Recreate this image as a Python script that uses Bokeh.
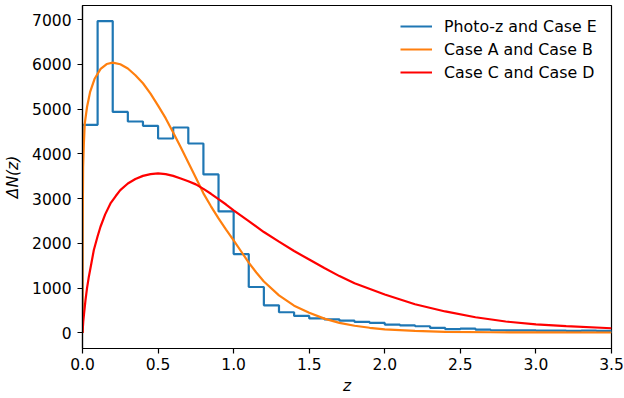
from bokeh.plotting import figure
from bokeh.models import Range1d, FixedTicker, Legend, LegendItem
from bokeh.embed import file_html
from bokeh.resources import INLINE

# Photo-z histogram (bin width 0.1 over 0 <= z <= 3.5)
bin_edges = [0.0, 0.1, 0.2, 0.3, 0.4, 0.5, 0.6, 0.7, 0.8, 0.9, 1.0, 1.1, 1.2,
             1.3, 1.4, 1.5, 1.6, 1.7, 1.8, 1.9, 2.0, 2.1, 2.2, 2.3, 2.4, 2.5,
             2.6, 2.7, 2.8, 2.9, 3.0, 3.1, 3.2, 3.3, 3.4, 3.5]
photo_counts = [4650, 6970, 4940, 4725, 4628, 4346, 4591, 4234, 3542, 2716,
                1763, 1027, 618, 462, 379, 325, 305, 275, 245, 223,
                186, 171, 149, 112, 85, 97, 74, 60, 55, 55,
                50, 50, 45, 50, 45]

# Case A / Case B distribution
z_ab = [0.0, 0.001, 0.004, 0.009, 0.015, 0.03, 0.05, 0.08, 0.12, 0.16, 0.2,
        0.25, 0.3, 0.35, 0.4, 0.45, 0.5, 0.55, 0.6, 0.65, 0.7, 0.75, 0.8,
        0.85, 0.9, 0.95, 1.0, 1.05, 1.1, 1.15, 1.2, 1.3, 1.4, 1.5, 1.6, 1.7,
        1.8, 1.9, 2.0, 2.2, 2.4, 2.7, 3.0, 3.5]
n_ab = [0, 2200, 3700, 4230, 4680, 5050, 5380, 5680, 5900, 6010, 6040,
        6005, 5910, 5760, 5580, 5350, 5080, 4800, 4480, 4150, 3810, 3470, 3120,
        2830, 2560, 2310, 2070, 1820, 1570, 1350, 1150, 840, 610, 450, 320, 225,
        160, 115, 80, 45, 25, 15, 12, 10]

# Case C / Case D distribution
z_cd = [0.0, 0.005, 0.01, 0.02, 0.03, 0.042, 0.06, 0.075, 0.1, 0.119, 0.15,
        0.185, 0.22, 0.25, 0.3, 0.35, 0.4, 0.45, 0.5, 0.55, 0.6, 0.65, 0.7,
        0.75, 0.8, 0.85, 0.9, 0.95, 1.0, 1.1, 1.2, 1.3, 1.4, 1.5, 1.6, 1.7,
        1.8, 2.0, 2.2, 2.4, 2.6, 2.8, 3.0, 3.2, 3.5]
n_cd = [0, 250, 420, 737, 1000, 1257, 1580, 1853, 2160, 2373, 2650,
        2895, 3060, 3192, 3340, 3440, 3510, 3550, 3565, 3550, 3510, 3453, 3390,
        3320, 3220, 3110, 2990, 2870, 2740, 2500, 2255, 2040, 1830, 1640, 1450, 1270,
        1110, 860, 640, 480, 350, 255, 190, 150, 105]

labels = ["Photo-z and Case E", "Case A and Case B", "Case C and Case D"]
x_ticks = [0.0, 0.5, 1.0, 1.5, 2.0, 2.5, 3.0, 3.5]
y_ticks = [0, 1000, 2000, 3000, 4000, 5000, 6000, 7000]

FONT = "DejaVu Sans"
FS = "15.5px"
LEGEND_FS = "15.8px"

# step outline of the histogram, closed to the baseline at both ends
step_x = [bin_edges[0]]
step_y = [0]
for i, c in enumerate(photo_counts):
    step_x += [bin_edges[i], bin_edges[i + 1]]
    step_y += [c, c]
step_x.append(bin_edges[-1])
step_y.append(0)

p = figure(width=624, height=398, output_backend="svg", toolbar_location=None,
           x_range=Range1d(0, 3.5), y_range=Range1d(-348, 7318),
           min_border_left=82, min_border_right=13, min_border_top=5,
           min_border_bottom=50)
p.background_fill_color = "white"
p.border_fill_color = "white"
p.grid.visible = False
p.outline_line_color = "black"
p.outline_line_width = 1.2

r_hist = p.line(step_x, step_y, line_color="#1f77b4", line_width=2.2)
r_ab = p.line(z_ab, n_ab, line_color="#ff7f0e", line_width=2.2)
r_cd = p.line(z_cd, n_cd, line_color="#ff0000", line_width=2.2)

for ax in (p.xaxis[0], p.yaxis[0]):
    ax.axis_line_width = 1.2
    ax.major_tick_line_width = 1.2
    ax.major_tick_out = 5
    ax.major_tick_in = 0
    ax.minor_tick_out = 0
    ax.minor_tick_in = 0
    ax.major_label_text_font = FONT
    ax.major_label_text_font_size = FS
    ax.major_label_text_color = "black"
    ax.axis_label_text_font = FONT
    ax.axis_label_text_font_size = FS
    ax.axis_label_text_font_style = "italic"
    ax.axis_label_text_color = "black"

p.xaxis.ticker = FixedTicker(ticks=x_ticks)
p.xaxis.major_label_overrides = {t: f"{t:.1f}" for t in x_ticks}
p.xaxis.major_label_standoff = 4
p.xaxis.axis_label = "z"
p.xaxis.axis_label_standoff = 4

p.yaxis.ticker = FixedTicker(ticks=y_ticks)
p.yaxis.major_label_overrides = {t: str(t) for t in y_ticks}
p.yaxis.major_label_standoff = 6
p.yaxis.axis_label = "ΔN(z)"
p.yaxis.axis_label_standoff = 7

legend = Legend(items=[LegendItem(label=labels[0], renderers=[r_hist]),
                       LegendItem(label=labels[1], renderers=[r_ab]),
                       LegendItem(label=labels[2], renderers=[r_cd])],
                location=(318, 266))
legend.border_line_alpha = 0
legend.background_fill_alpha = 0
legend.padding = 0
legend.margin = 0
legend.glyph_width = 32
legend.glyph_height = 20
legend.label_height = 20
legend.spacing = 3
legend.label_standoff = 12
legend.label_text_font = FONT
legend.label_text_font_size = LEGEND_FS
legend.label_text_color = "black"
p.add_layout(legend, "center")

open("out.html", "w").write(file_html(p, INLINE))
